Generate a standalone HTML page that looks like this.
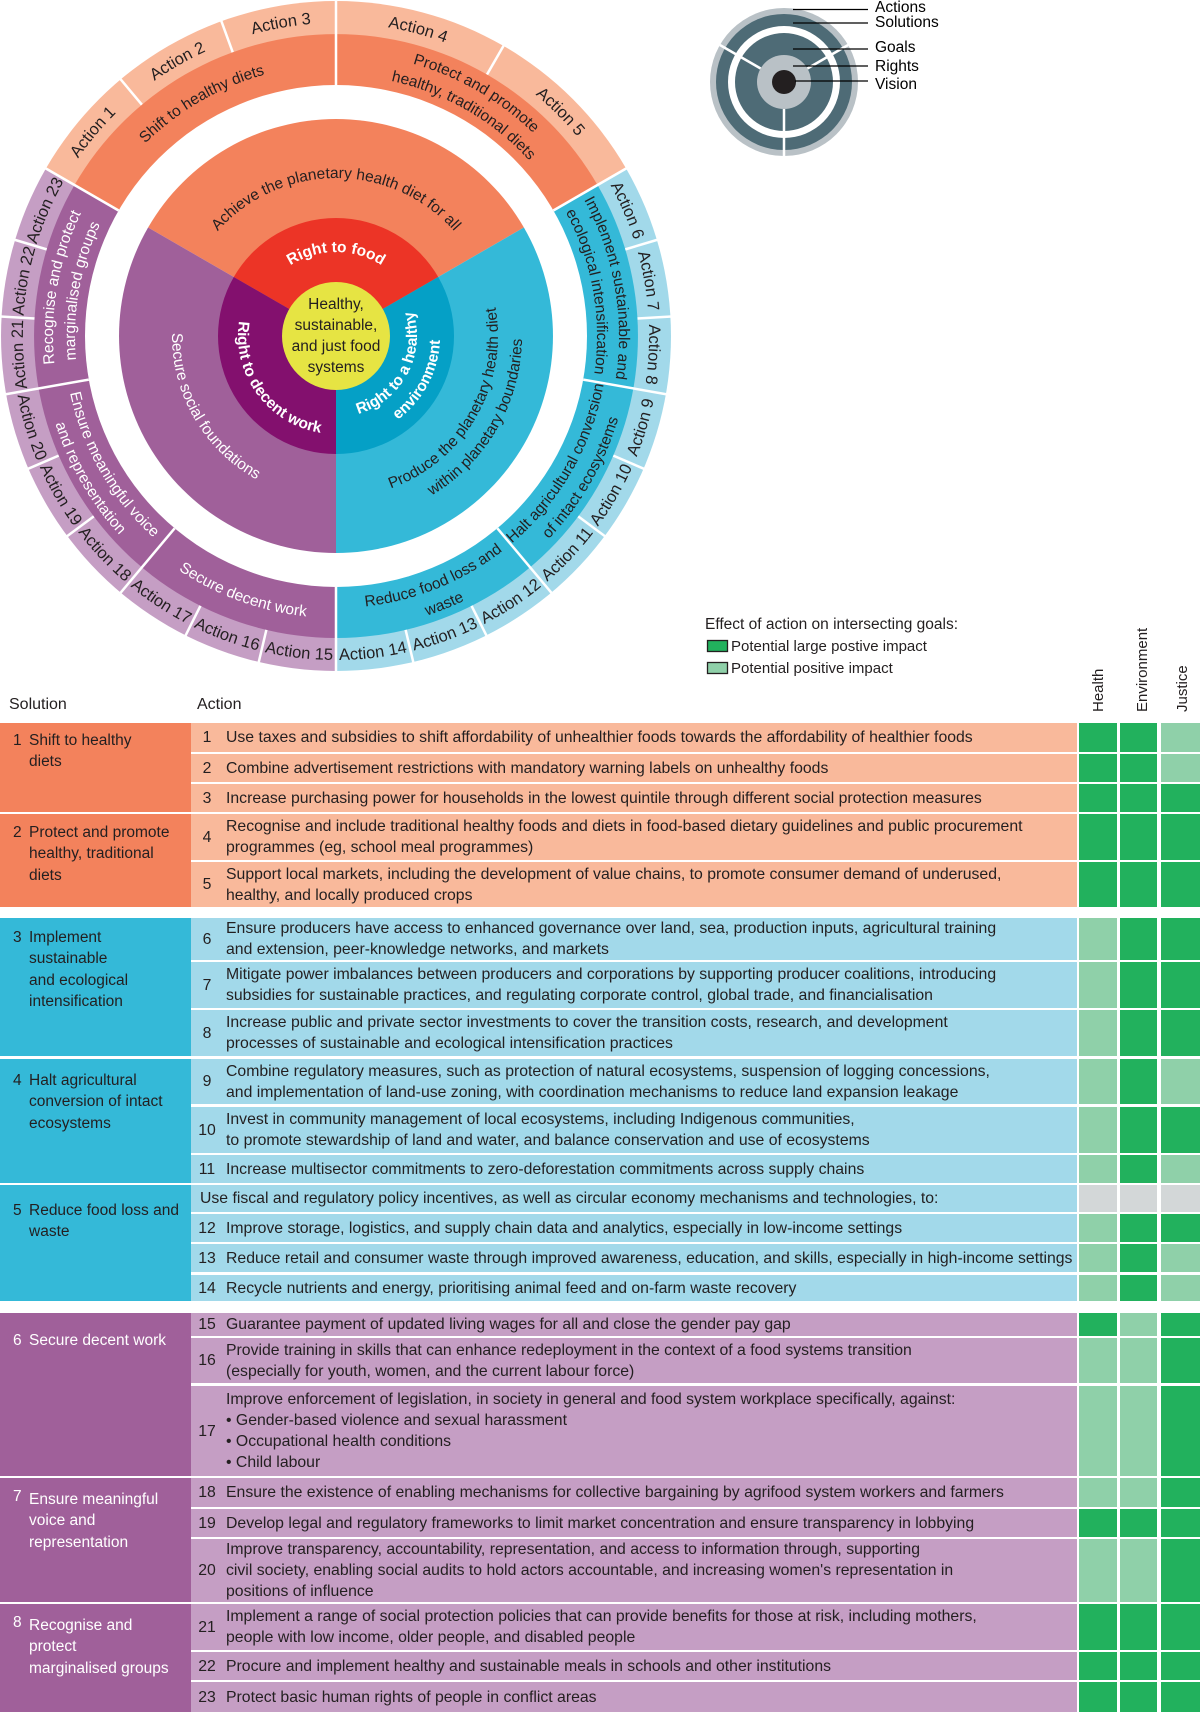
<!DOCTYPE html>
<html><head><meta charset="utf-8"><style>
*{margin:0;padding:0;box-sizing:border-box}
body{width:1200px;height:1712px;position:relative;overflow:hidden;background:#fff;font-family:"Liberation Sans",sans-serif;color:#231f20}
svg{position:absolute;left:0;top:0}
.hd{position:absolute;font-size:16px;top:696px}
.s{position:absolute;left:0;width:191px;font-size:15.5px;line-height:21.5px}
.s .n{position:absolute;left:13px}
.s .x{position:absolute;left:29px;width:162px;white-space:nowrap}
.so{background:#f3825c}.sc{background:#34b9d8}.sp{background:#a0609a;color:#fff}
.r{position:absolute;left:191px;width:1009px;display:flex}
.a{width:886px;display:flex;align-items:center;font-size:15.8px;line-height:21px;white-space:nowrap;overflow:hidden}
.ao{background:#f9b99b}.ac{background:#a2d9ea}.ap{background:#c59ec4}
.a .n{width:32px;text-align:center;flex:none}
.a .t{padding-left:3px}
.c{height:100%}
.h{width:38px;margin-left:2px}.e{width:37px;margin-left:3px}.j{width:39px;margin-left:4px}
.d{background:#22b15d}.l{background:#8fd0a9}.g{background:#d3d7d8}
</style></head><body>
<svg width="1200" height="720" viewBox="0 0 1200 720">
<defs>
<path id="cw313" d="M336,649 A313,313 0 1 1 336,23 A313,313 0 1 1 336,649"/>
<path id="cw271" d="M336,607 A271,271 0 1 1 336,65 A271,271 0 1 1 336,607"/>
<path id="cw283" d="M336,619 A283,283 0 1 1 336,53 A283,283 0 1 1 336,619"/>
<path id="cw261" d="M336,597 A261,261 0 1 1 336,75 A261,261 0 1 1 336,597"/>
<path id="cw158" d="M336,494 A158,158 0 1 1 336,178 A158,158 0 1 1 336,494"/>
<path id="cw84" d="M336,420 A84,84 0 1 1 336,252 A84,84 0 1 1 336,420"/>
<path id="cc324" d="M336,12 A324,324 0 1 0 336,660 A324,324 0 1 0 336,12"/>
<path id="cc282" d="M336,54 A282,282 0 1 0 336,618 A282,282 0 1 0 336,54"/>
<path id="cc272" d="M336,64 A272,272 0 1 0 336,608 A272,272 0 1 0 336,64"/>
<path id="cc294" d="M336,42 A294,294 0 1 0 336,630 A294,294 0 1 0 336,42"/>
<path id="cc164" d="M336,172 A164,164 0 1 0 336,500 A164,164 0 1 0 336,172"/>
<path id="cc162" d="M336,174 A162,162 0 1 0 336,498 A162,162 0 1 0 336,174"/>
<path id="cc186" d="M336,150 A186,186 0 1 0 336,522 A186,186 0 1 0 336,150"/>
<path id="cc98" d="M336,238 A98,98 0 1 0 336,434 A98,98 0 1 0 336,238"/>
<path id="cc81" d="M336,255 A81,81 0 1 0 336,417 A81,81 0 1 0 336,255"/>
<path id="cc104" d="M336,232 A104,104 0 1 0 336,440 A104,104 0 1 0 336,232"/>
</defs>
<path d="M336,336 L45.9,168.5 A335,335 0 0 1 626.1,168.5 Z" fill="#f9b99b"/>
<path d="M336,336 L626.1,168.5 A335,335 0 0 1 336,671 Z" fill="#a2d9ea"/>
<path d="M336,336 L336,671 A335,335 0 0 1 45.9,168.5 Z" fill="#c59ec4"/>
<path d="M336,336 L74.5,185 A302,302 0 0 1 597.5,185 Z" fill="#f3825c"/>
<path d="M336,336 L597.5,185 A302,302 0 0 1 336,638 Z" fill="#34b9d8"/>
<path d="M336,336 L336,638 A302,302 0 0 1 74.5,185 Z" fill="#a0609a"/>
<circle cx="336" cy="336" r="251" fill="#fff"/>
<path d="M336,336 L148.1,227.5 A217,217 0 0 1 523.9,227.5 Z" fill="#f3825c"/>
<path d="M336,336 L523.9,227.5 A217,217 0 0 1 336,553 Z" fill="#34b9d8"/>
<path d="M336,336 L336,553 A217,217 0 0 1 148.1,227.5 Z" fill="#a0609a"/>
<path d="M336,336 L233.8,277 A118,118 0 0 1 438.2,277 Z" fill="#ec3426"/>
<path d="M336,336 L438.2,277 A118,118 0 0 1 336,454 Z" fill="#05a0c6"/>
<path d="M336,336 L336,454 A118,118 0 0 1 233.8,277 Z" fill="#83106e"/>
<circle cx="336" cy="336" r="54" fill="#e6e443"/>
<g stroke="#fff" stroke-width="2.5">
<line x1="336" y1="0" x2="336" y2="34" transform="rotate(-40 336 336)"/>
<line x1="336" y1="0" x2="336" y2="34" transform="rotate(-20 336 336)"/>
<line x1="336" y1="0" x2="336" y2="34" transform="rotate(30 336 336)"/>
<line x1="336" y1="0" x2="336" y2="34" transform="rotate(73.33 336 336)"/>
<line x1="336" y1="0" x2="336" y2="34" transform="rotate(86.67 336 336)"/>
<line x1="336" y1="0" x2="336" y2="34" transform="rotate(113.33 336 336)"/>
<line x1="336" y1="0" x2="336" y2="34" transform="rotate(126.67 336 336)"/>
<line x1="336" y1="0" x2="336" y2="34" transform="rotate(153.33 336 336)"/>
<line x1="336" y1="0" x2="336" y2="34" transform="rotate(166.67 336 336)"/>
<line x1="336" y1="0" x2="336" y2="34" transform="rotate(193.33 336 336)"/>
<line x1="336" y1="0" x2="336" y2="34" transform="rotate(206.67 336 336)"/>
<line x1="336" y1="0" x2="336" y2="34" transform="rotate(233.33 336 336)"/>
<line x1="336" y1="0" x2="336" y2="34" transform="rotate(246.67 336 336)"/>
<line x1="336" y1="0" x2="336" y2="34" transform="rotate(273.33 336 336)"/>
<line x1="336" y1="0" x2="336" y2="34" transform="rotate(286.67 336 336)"/>
<line x1="336" y1="0" x2="336" y2="85" transform="rotate(-60 336 336)"/>
<line x1="336" y1="0" x2="336" y2="85" transform="rotate(0 336 336)"/>
<line x1="336" y1="0" x2="336" y2="85" transform="rotate(60 336 336)"/>
<line x1="336" y1="0" x2="336" y2="85" transform="rotate(100 336 336)"/>
<line x1="336" y1="0" x2="336" y2="85" transform="rotate(140 336 336)"/>
<line x1="336" y1="0" x2="336" y2="85" transform="rotate(180 336 336)"/>
<line x1="336" y1="0" x2="336" y2="85" transform="rotate(220 336 336)"/>
<line x1="336" y1="0" x2="336" y2="85" transform="rotate(260 336 336)"/>
</g>
<g font-family="Liberation Sans, sans-serif" font-size="16.5" fill="#231f20" text-anchor="middle">
<text><textPath href="#cw313" startOffset="36.11%">Action 1</textPath></text>
<text><textPath href="#cw313" startOffset="41.67%">Action 2</textPath></text>
<text><textPath href="#cw313" startOffset="47.22%">Action 3</textPath></text>
<text><textPath href="#cw313" startOffset="54.17%">Action 4</textPath></text>
<text><textPath href="#cw313" startOffset="62.5%">Action 5</textPath></text>
<text><textPath href="#cw313" startOffset="68.52%">Action 6</textPath></text>
<text><textPath href="#cw313" startOffset="72.22%">Action 7</textPath></text>
<text><textPath href="#cw313" startOffset="75.93%">Action 8</textPath></text>
<text><textPath href="#cc324" startOffset="70.37%">Action 9</textPath></text>
<text><textPath href="#cc324" startOffset="66.67%">Action 10</textPath></text>
<text><textPath href="#cc324" startOffset="62.96%">Action 11</textPath></text>
<text><textPath href="#cc324" startOffset="59.26%">Action 12</textPath></text>
<text><textPath href="#cc324" startOffset="55.56%">Action 13</textPath></text>
<text><textPath href="#cc324" startOffset="51.85%">Action 14</textPath></text>
<text><textPath href="#cc324" startOffset="48.15%">Action 15</textPath></text>
<text><textPath href="#cc324" startOffset="44.44%">Action 16</textPath></text>
<text><textPath href="#cc324" startOffset="40.74%">Action 17</textPath></text>
<text><textPath href="#cc324" startOffset="37.04%">Action 18</textPath></text>
<text><textPath href="#cc324" startOffset="33.33%">Action 19</textPath></text>
<text><textPath href="#cc324" startOffset="29.63%">Action 20</textPath></text>
<text><textPath href="#cw313" startOffset="24.07%">Action 21</textPath></text>
<text><textPath href="#cw313" startOffset="27.78%">Action 22</textPath></text>
<text><textPath href="#cw313" startOffset="31.48%">Action 23</textPath></text>
</g>
<g font-family="Liberation Sans, sans-serif" font-size="15.5" fill="#231f20" text-anchor="middle">
<text><textPath href="#cw271" startOffset="41.67%">Shift to healthy diets</textPath></text>
<text><textPath href="#cw283" startOffset="58.33%">Protect and promote</textPath></text>
<text><textPath href="#cw261" startOffset="58.33%">healthy, traditional diets</textPath></text>
<text><textPath href="#cw283" startOffset="72.22%">Implement sustainable and</textPath></text>
<text><textPath href="#cw261" startOffset="72.22%">ecological intensification</textPath></text>
<text><textPath href="#cc272" startOffset="66.67%">Halt agricultural conversion</textPath></text>
<text><textPath href="#cc294" startOffset="66.67%">of intact ecosystems</textPath></text>
<text><textPath href="#cc272" startOffset="56.11%">Reduce food loss and</textPath></text>
<text><textPath href="#cc294" startOffset="56.11%">waste</textPath></text>
</g>
<g font-family="Liberation Sans, sans-serif" font-size="15.5" fill="#fff" text-anchor="middle">
<text><textPath href="#cc282" startOffset="44.44%">Secure decent work</textPath></text>
<text><textPath href="#cc272" startOffset="33.33%">Ensure meaningful voice</textPath></text>
<text><textPath href="#cc294" startOffset="33.33%">and representation</textPath></text>
<text><textPath href="#cw283" startOffset="27.78%">Recognise and protect</textPath></text>
<text><textPath href="#cw261" startOffset="27.78%">marginalised groups</textPath></text>
</g>
<g font-family="Liberation Sans, sans-serif" font-size="15.5" text-anchor="middle">
<text fill="#231f20"><textPath href="#cw158" startOffset="50%">Achieve the planetary health diet for all</textPath></text>
<text fill="#231f20"><textPath href="#cc162" startOffset="66.67%">Produce the planetary health diet</textPath></text>
<text fill="#231f20"><textPath href="#cc186" startOffset="66.67%">within planetary boundaries</textPath></text>
<text fill="#fff"><textPath href="#cc164" startOffset="33.33%">Secure social foundations</textPath></text>
</g>
<g font-family="Liberation Sans, sans-serif" font-size="15.5" font-weight="bold" fill="#fff" text-anchor="middle">
<text><textPath href="#cw84" startOffset="50%">Right to food</textPath></text>
<text><textPath href="#cc81" startOffset="67.22%">Right to a healthy</textPath></text>
<text><textPath href="#cc104" startOffset="67.22%">environment</textPath></text>
<text><textPath href="#cc98" startOffset="35%">Right to decent work</textPath></text>
</g>
<g font-family="Liberation Sans, sans-serif" font-size="15.5" fill="#231f20" text-anchor="middle">
<text x="336" y="309">Healthy,</text>
<text x="336" y="330">sustainable,</text>
<text x="336" y="351">and just food</text>
<text x="336" y="372">systems</text>
</g>
<circle cx="784" cy="82" r="74" fill="#b9c1c6"/>
<circle cx="784" cy="82" r="68" fill="#4e6b76"/>
<circle cx="784" cy="82" r="56" fill="#fff"/>
<circle cx="784" cy="82" r="49" fill="#4e6b76"/>
<circle cx="784" cy="82" r="27" fill="#b9c1c6"/>
<g stroke="#fff" stroke-width="2.5">
<line x1="784" y1="8" x2="784" y2="55" transform="rotate(-60 784 82)"/>
<line x1="784" y1="8" x2="784" y2="55" transform="rotate(60 784 82)"/>
<line x1="784" y1="8" x2="784" y2="55" transform="rotate(180 784 82)"/>
</g>
<circle cx="784" cy="82" r="12" fill="#231f20"/>
<g stroke="#000" stroke-width="1.3">
<line x1="793" y1="9.5" x2="868" y2="9.5"/>
<line x1="793" y1="23" x2="868" y2="23"/>
<line x1="793" y1="49" x2="868" y2="49"/>
<line x1="793" y1="66" x2="868" y2="66"/>
<line x1="795" y1="81" x2="868" y2="81"/>
</g>
<g font-family="Liberation Sans, sans-serif" font-size="15.5" fill="#000">
<text x="875" y="12">Actions</text>
<text x="875" y="27">Solutions</text>
<text x="875" y="52">Goals</text>
<text x="875" y="71">Rights</text>
<text x="875" y="89">Vision</text>
</g>
<text x="705" y="629" font-family="Liberation Sans, sans-serif" font-size="15.5" fill="#231f20">Effect of action on intersecting goals:</text>
<rect x="707.5" y="640.5" width="20" height="11" fill="#22b15d" stroke="#231f20" stroke-width="1.3"/>
<rect x="707.5" y="662.5" width="20" height="11" fill="#8fd0a9" stroke="#231f20" stroke-width="1.3"/>
<text x="731" y="651" font-family="Liberation Sans, sans-serif" font-size="15" fill="#231f20">Potential large postive impact</text>
<text x="731" y="673" font-family="Liberation Sans, sans-serif" font-size="15" fill="#231f20">Potential positive impact</text>
<g font-family="Liberation Sans, sans-serif" font-size="15" fill="#231f20">
<text transform="translate(1103 712) rotate(-90)">Health</text>
<text transform="translate(1147 712) rotate(-90)">Environment</text>
<text transform="translate(1187 712) rotate(-90)">Justice</text>
</g>
</svg>

<div class="hd" style="left:9px">Solution</div>
<div class="hd" style="left:197px">Action</div>

<div class="s so" style="top:723px;height:89px"><span class="n" style="top:6.5px">1</span><div class="x" style="top:6.5px">Shift to healthy<br>diets</div></div>
<div class="s so" style="top:814px;height:93px"><span class="n" style="top:7.5px">2</span><div class="x" style="top:7.5px">Protect and promote<br>healthy, traditional<br>diets</div></div>
<div class="s sc" style="top:918px;height:138px"><span class="n" style="top:8.5px">3</span><div class="x" style="top:8.5px">Implement<br>sustainable<br>and ecological<br>intensification</div></div>
<div class="s sc" style="top:1059px;height:124px"><span class="n" style="top:10.5px">4</span><div class="x" style="top:10.5px">Halt agricultural<br>conversion of intact<br>ecosystems</div></div>
<div class="s sc" style="top:1185px;height:116px"><span class="n" style="top:14.5px">5</span><div class="x" style="top:14.5px">Reduce food loss and<br>waste</div></div>
<div class="s sp" style="top:1313px;height:163px"><span class="n" style="top:16.5px">6</span><div class="x" style="top:16.5px">Secure decent work</div></div>
<div class="s sp" style="top:1478px;height:124px"><span class="n" style="top:8px">7</span><div class="x" style="top:10.5px">Ensure meaningful<br>voice and<br>representation</div></div>
<div class="s sp" style="top:1604px;height:108px"><span class="n" style="top:8px">8</span><div class="x" style="top:10.5px">Recognise and<br>protect<br>marginalised groups</div></div>

<div class="r" style="top:723px;height:29px"><div class="a ao"><span class="n">1</span><span class="t">Use taxes and subsidies to shift affordability of unhealthier foods towards the affordability of healthier foods</span></div><div class="c h d"></div><div class="c e d"></div><div class="c j l"></div></div>
<div class="r" style="top:754px;height:28px"><div class="a ao"><span class="n">2</span><span class="t">Combine advertisement restrictions with mandatory warning labels on unhealthy foods</span></div><div class="c h d"></div><div class="c e d"></div><div class="c j l"></div></div>
<div class="r" style="top:784px;height:28px"><div class="a ao"><span class="n">3</span><span class="t">Increase purchasing power for households in the lowest quintile through different social protection measures</span></div><div class="c h d"></div><div class="c e d"></div><div class="c j d"></div></div>
<div class="r" style="top:814px;height:46px"><div class="a ao"><span class="n">4</span><span class="t">Recognise and include traditional healthy foods and diets in food-based dietary guidelines and public procurement<br>programmes (eg, school meal programmes)</span></div><div class="c h d"></div><div class="c e d"></div><div class="c j d"></div></div>
<div class="r" style="top:862px;height:45px"><div class="a ao"><span class="n">5</span><span class="t">Support local markets, including the development of value chains, to promote consumer demand of underused,<br>healthy, and locally produced crops</span></div><div class="c h d"></div><div class="c e d"></div><div class="c j d"></div></div>

<div class="r" style="top:918px;height:42px"><div class="a ac"><span class="n">6</span><span class="t">Ensure producers have access to enhanced governance over land, sea, production inputs, agricultural training<br>and extension, peer-knowledge networks, and markets</span></div><div class="c h l"></div><div class="c e d"></div><div class="c j d"></div></div>
<div class="r" style="top:962px;height:46px"><div class="a ac"><span class="n">7</span><span class="t">Mitigate power imbalances between producers and corporations by supporting producer coalitions, introducing<br>subsidies for sustainable practices, and regulating corporate control, global trade, and financialisation</span></div><div class="c h l"></div><div class="c e d"></div><div class="c j d"></div></div>
<div class="r" style="top:1010px;height:46px"><div class="a ac"><span class="n">8</span><span class="t">Increase public and private sector investments to cover the transition costs, research, and development<br>processes of sustainable and ecological intensification practices</span></div><div class="c h l"></div><div class="c e d"></div><div class="c j d"></div></div>
<div class="r" style="top:1059px;height:45px"><div class="a ac"><span class="n">9</span><span class="t">Combine regulatory measures, such as protection of natural ecosystems, suspension of logging concessions,<br>and implementation of land-use zoning, with coordination mechanisms to reduce land expansion leakage</span></div><div class="c h l"></div><div class="c e d"></div><div class="c j l"></div></div>
<div class="r" style="top:1107px;height:46px"><div class="a ac"><span class="n">10</span><span class="t">Invest in community management of local ecosystems, including Indigenous communities,<br>to promote stewardship of land and water, and balance conservation and use of ecosystems</span></div><div class="c h l"></div><div class="c e d"></div><div class="c j d"></div></div>
<div class="r" style="top:1155px;height:28px"><div class="a ac"><span class="n">11</span><span class="t">Increase multisector commitments to zero-deforestation commitments across supply chains</span></div><div class="c h l"></div><div class="c e d"></div><div class="c j l"></div></div>
<div class="r" style="top:1185px;height:27px"><div class="a ac"><span class="t" style="padding-left:9px">Use fiscal and regulatory policy incentives, as well as circular economy mechanisms and technologies, to:</span></div><div class="c h g"></div><div class="c e g"></div><div class="c j g"></div></div>
<div class="r" style="top:1214px;height:28px"><div class="a ac"><span class="n">12</span><span class="t">Improve storage, logistics, and supply chain data and analytics, especially in low-income settings</span></div><div class="c h l"></div><div class="c e d"></div><div class="c j d"></div></div>
<div class="r" style="top:1244px;height:28px"><div class="a ac"><span class="n">13</span><span class="t">Reduce retail and consumer waste through improved awareness, education, and skills, especially in high-income settings</span></div><div class="c h l"></div><div class="c e d"></div><div class="c j l"></div></div>
<div class="r" style="top:1275px;height:26px"><div class="a ac"><span class="n">14</span><span class="t">Recycle nutrients and energy, prioritising animal feed and on-farm waste recovery</span></div><div class="c h l"></div><div class="c e d"></div><div class="c j l"></div></div>

<div class="r" style="top:1313px;height:23px"><div class="a ap"><span class="n">15</span><span class="t">Guarantee payment of updated living wages for all and close the gender pay gap</span></div><div class="c h d"></div><div class="c e l"></div><div class="c j d"></div></div>
<div class="r" style="top:1338px;height:45px"><div class="a ap"><span class="n">16</span><span class="t">Provide training in skills that can enhance redeployment in the context of a food systems transition<br>(especially for youth, women, and the current labour force)</span></div><div class="c h l"></div><div class="c e l"></div><div class="c j d"></div></div>
<div class="r" style="top:1386px;height:90px"><div class="a ap"><span class="n">17</span><span class="t">Improve enforcement of legislation, in society in general and food system workplace specifically, against:<br>• Gender-based violence and sexual harassment<br>• Occupational health conditions<br>• Child labour</span></div><div class="c h l"></div><div class="c e l"></div><div class="c j d"></div></div>
<div class="r" style="top:1478px;height:29px"><div class="a ap"><span class="n">18</span><span class="t">Ensure the existence of enabling mechanisms for collective bargaining by agrifood system workers and farmers</span></div><div class="c h l"></div><div class="c e l"></div><div class="c j d"></div></div>
<div class="r" style="top:1509px;height:28px"><div class="a ap"><span class="n">19</span><span class="t">Develop legal and regulatory frameworks to limit market concentration and ensure transparency in lobbying</span></div><div class="c h d"></div><div class="c e d"></div><div class="c j d"></div></div>
<div class="r" style="top:1539px;height:63px"><div class="a ap"><span class="n">20</span><span class="t">Improve transparency, accountability, representation, and access to information through, supporting<br>civil society, enabling social audits to hold actors accountable, and increasing women's representation in<br>positions of influence</span></div><div class="c h l"></div><div class="c e l"></div><div class="c j d"></div></div>
<div class="r" style="top:1604px;height:46px"><div class="a ap"><span class="n">21</span><span class="t">Implement a range of social protection policies that can provide benefits for those at risk, including mothers,<br>people with low income, older people, and disabled people</span></div><div class="c h d"></div><div class="c e d"></div><div class="c j d"></div></div>
<div class="r" style="top:1652px;height:28px"><div class="a ap"><span class="n">22</span><span class="t">Procure and implement healthy and sustainable meals in schools and other institutions</span></div><div class="c h d"></div><div class="c e d"></div><div class="c j d"></div></div>
<div class="r" style="top:1682px;height:30px"><div class="a ap"><span class="n">23</span><span class="t">Protect basic human rights of people in conflict areas</span></div><div class="c h d"></div><div class="c e d"></div><div class="c j d"></div></div>
</body></html>
